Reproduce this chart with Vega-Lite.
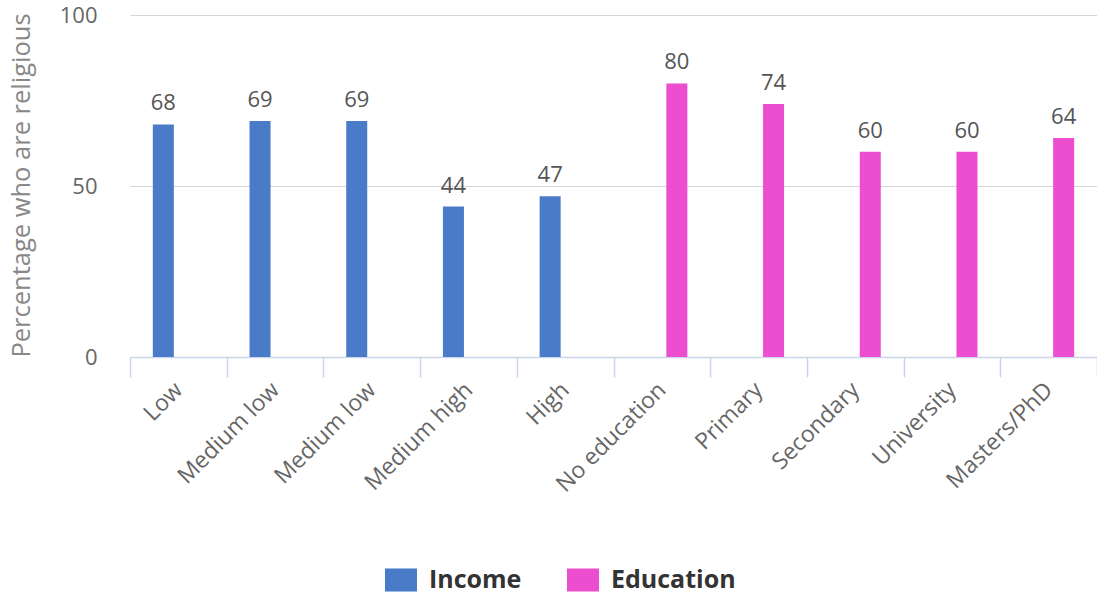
{
  "$schema": "https://vega.github.io/schema/vega-lite/v6.json",
  "width": 967,
  "height": 342,
  "autosize": {"type": "none"},
  "padding": {"left": 130, "top": 15, "right": 0, "bottom": 239},
  "background": "white",
  "config": {"font": "Open Sans", "view": {"stroke": null}},
  "data": {
    "values": [
      {"category": "Low", "series": "Income", "value": 68},
      {"category": "Medium low", "series": "Income", "value": 69},
      {"category": "Medium low 2", "series": "Income", "value": 69},
      {"category": "Medium high", "series": "Income", "value": 44},
      {"category": "High", "series": "Income", "value": 47},
      {"category": "No education", "series": "Education", "value": 80},
      {"category": "Primary", "series": "Education", "value": 74},
      {"category": "Secondary", "series": "Education", "value": 60},
      {"category": "University", "series": "Education", "value": 60},
      {"category": "Masters/PhD", "series": "Education", "value": 64}
    ]
  },
  "encoding": {
    "x": {
      "field": "category",
      "type": "nominal",
      "sort": null,
      "scale": {"paddingInner": 0, "paddingOuter": 0},
      "axis": {
        "title": null,
        "domainColor": "#ccd6eb",
        "domainWidth": 1.5,
        "tickColor": "#ccd6eb",
        "tickWidth": 1.5,
        "tickSize": 20,
        "tickBand": "extent",
        "labelAngle": -45,
        "labelAlign": "right",
        "labelBaseline": "middle",
        "labelPadding": 9,
        "labelFontSize": 23,
        "labelColor": "#666666",
        "labelOverlap": false,
        "labelBound": false,
        "labelExpr": "replace(datum.label, ' 2', '')",
        "grid": false
      }
    },
    "xOffset": {
      "field": "series",
      "type": "nominal",
      "scale": {"domain": ["Income", "Education"], "paddingInner": 0.3, "paddingOuter": 0.76}
    },
    "y": {
      "field": "value",
      "type": "quantitative",
      "scale": {"domain": [0, 100], "nice": false},
      "axis": {
        "values": [0, 50, 100],
        "domain": false,
        "ticks": false,
        "gridColor": "#d6d6d6",
        "labelPadding": 33,
        "labelFontSize": 22,
        "labelColor": "#666666",
        "title": "Percentage who are religious",
        "titleFontSize": 25.5,
        "titleColor": "#888888",
        "titleFontWeight": "normal",
        "titleAngle": -90,
        "titleAlign": "center",
        "titleBaseline": "bottom",
        "titleX": -96,
        "titleY": 170
      }
    }
  },
  "layer": [
    {
      "mark": {"type": "bar"},
      "encoding": {
        "color": {
          "field": "series",
          "type": "nominal",
          "scale": {"domain": ["Income", "Education"], "range": ["#4a7bc9", "#ed4ecf"]},
          "legend": {
            "orient": "none",
            "legendX": 255,
            "legendY": 549,
            "direction": "horizontal",
            "title": null,
            "symbolType": "M-1,-0.72H1V0.72H-1Z",
            "symbolSize": 1024,
            "symbolStrokeWidth": 0,
            "labelFontSize": 25,
            "labelFontWeight": "bold",
            "labelColor": "#333333",
            "columnPadding": 45,
            "labelOffset": 12
          }
        }
      }
    },
    {
      "mark": {"type": "text", "baseline": "alphabetic", "dy": -14, "fontSize": 22, "color": "#555555"},
      "encoding": {"text": {"field": "value", "type": "quantitative"}}
    }
  ]
}
